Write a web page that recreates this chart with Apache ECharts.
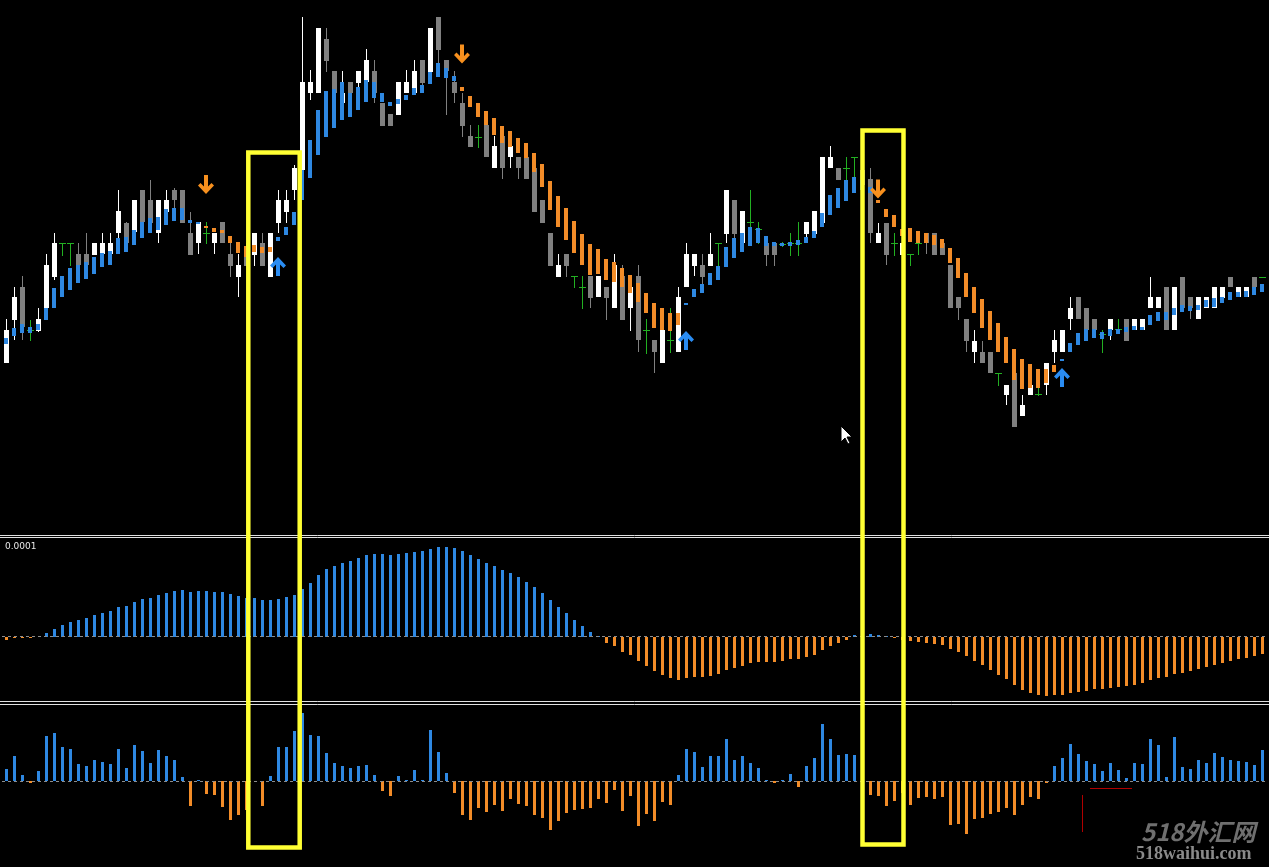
<!DOCTYPE html>
<html>
<head>
<meta charset="utf-8">
<script src="https://cdn.jsdelivr.net/npm/echarts/dist/echarts.min.js"></script>
<style>
html,body{margin:0;padding:0;background:#000;overflow:hidden;}
#c{width:1269px;height:867px;}
</style>
</head>
<body>
<div id="c"></div>
<script>
// ---------- DATA (price in points) ----------
const open = [
172,215,248,205,204,227,258,292,292,281, 281,280,281,281,302,312,303,345,335,302,
323,345,345,302,292,302,292,313,281,258, 281,280,292,258,312,323,345,365,442,442,
496,464,432,453,452,453,464,432,421,420, 442,442,475,463,518,475,453,432,399,398,
410,367,399,378,378,378,367,335,302,258, 281,259,248,259,238,248,227,259,227,259,
205,195,172,195,183,248,269,270,269,292, 301,335,292,313,306,292,292,291,292,292,
301,301,312,367,367,367,378,365,356,292, 312,292,280,281,292,302,302,292,270,238,
216,183,183,183,162,140,162,119,140,141, 150,183,183,216,238,227,216,201,205,206,
216,205,205,227,227,248,205,258,238,216, 227,227,237,258,238,238,258,258];
const high = [
216,248,259,215,227,281,302,292,292,292, 302,292,302,302,345,313,335,345,355,335,
345,347,345,323,313,313,302,313,292,281, 292,302,302,302,345,345,370,518,465,507,
507,464,464,453,464,486,475,432,421,453, 465,475,475,507,518,475,464,442,410,410,
410,399,399,389,378,378,367,335,302,281, 281,259,259,259,259,248,281,270,259,270,
216,195,205,227,248,292,281,281,302,292, 345,335,324,345,313,292,292,293,302,313,
313,324,378,389,367,378,378,370,367,312, 312,302,295,281,302,302,302,292,270,238,
216,205,194,183,162,150,162,140,150,150, 172,205,205,238,238,227,216,205,216,216,
216,216,216,258,238,248,248,258,238,238, 238,248,248,258,248,248,258,258];
const low = [
172,195,195,195,203,215,255,280,270,260, 265,280,273,270,297,285,290,297,302,292,
310,314,312,280,281,292,281,292,258,238, 269,269,269,258,302,312,335,345,435,442,
463,435,425,435,445,445,432,409,409,420, 442,442,445,455,463,420,432,398,388,388,
378,367,356,367,356,356,323,312,269,258, 258,248,227,227,238,215,227,215,204,183,
182,162,172,183,183,248,259,248,269,258, 292,281,292,295,292,269,269,289,280,280,
292,301,312,367,355,355,358,345,292,292, 270,280,280,270,281,281,280,280,227,215,
183,172,172,162,150,130,108,119,140,140, 140,172,183,205,216,205,205,183,195,202,
194,205,205,227,227,205,205,227,216,216, 227,227,237,248,238,238,248,258];
const close = [
205,238,208,205,216,270,292,292,292,270, 270,292,292,292,324,292,335,313,312,335,
335,335,312,280,313,302,302,292,269,270, 269,302,269,302,335,335,367,453,453,507,
474,442,442,442,464,475,442,409,409,453, 453,464,452,507,485,464,442,409,388,398,
378,389,367,389,367,356,323,312,269,270, 269,259,248,237,259,237,270,215,248,195,
205,183,205,195,238,281,281,258,281,292, 345,301,324,313,306,280,280,291,292,292,
313,324,378,378,355,367,378,350,302,302, 280,292,292,281,292,292,280,280,227,227,
194,194,172,162,162,150,108,130,150,141, 172,195,205,227,216,205,205,201,216,206,
194,216,216,238,238,205,248,227,227,238, 238,248,248,248,248,248,248,258];
// trend-line segment ends and direction (u = up / blue, d = down / orange)
const trendLow = [
191,199,202,202,205,215,227,238,245,252, 256,261,268,270,281,283,290,297,302,305,
310,314,315,312,311,307,303,302,292,282, 278,283,282,283,294,300,310,335,357,380,
398,407,415,418,425,433,437,433,429,431, 435,440,442,451,458,457,454,444,428,418,
410,400,392,388,382,377,363,348,325,308, 295,282,270,260,261,255,253,248,242,233,
222,207,205,204,210,230,238,242,250,255, 268,277,283,289,292,289,289,289,289,290,
292,297,308,320,327,334,342,345,342,332, 318,308,299,293,292,292,290,287,272,257,
238,222,207,195,183,172,155,146,147,147, 152,163,174,183,190,194,197,196,199,201,
203,205,205,210,214,215,220,223,224,225, 228,228,232,235,238,238,240,243];
const trendHigh = [
197,207,211,208,211,227,247,259,267,270, 273,278,282,284,297,298,305,313,317,318,
326,327,327,315,313,309,307,305,299,293, 289,290,288,288,298,308,323,365,395,425,
444,446,453,442,448,455,453,442,433,436, 440,447,450,463,472,467,459,448,439,432,
424,417,409,404,397,392,382,371,354,339, 327,314,301,291,286,276,273,267,260,252,
242,232,227,222,222,232,246,251,262,269, 288,297,302,308,307,299,293,292,293,295,
298,304,322,340,347,355,358,355,348,335, 326,320,306,307,304,302,300,296,287,277,
262,248,236,224,212,198,186,176,171,166, 166,170,176,192,202,206,206,203,206,206,
208,209,208,220,223,223,227,230,229,230, 235,237,238,243,243,244,248,251];
const trendDir = [
'u','u','u','u','u','u','u','u','u','u', 'u','u','u','u','u','u','u','u','u','u',
'u','u','u','u','u','d','d','d','d','d', 'd','d','d','d','u','u','u','u','u','u',
'u','u','u','u','u','u','u','u','u','u', 'u','u','u','u','u','u','u','d','d','d',
'd','d','d','d','d','d','d','d','d','d', 'd','d','d','d','d','d','d','d','d','d',
'd','d','d','d','d','u','u','u','u','u', 'u','u','u','u','u','u','u','u','u','u',
'u','u','u','u','u','u','u','u','u','d', 'd','d','d','d','d','d','d','d','d','d',
'd','d','d','d','d','d','d','d','d','d', 'd','d','u','u','u','u','u','u','u','u',
'u','u','u','u','u','u','u','u','u','u', 'u','u','u','u','u','u','u','u'];
// signal arrows
const arrowUpIdx = [34, 85, 132];
const arrowUpVal = [268.5, 194.5, 157.5];
const arrowDownIdx = [25, 57, 109];
const arrowDownVal = [350.5, 481, 346];
// oscillator 1 (units of 1e-6)
const hist1 = [
-3,-0.5,-1,-1,0,4,8,12,15,17, 19,22,24,26,30,31,35,38,39,42,
44,46,47,45,46,46,45,45,43,41, 39,39,37,37,38,40,42,48,54,62,
68,71,74,76,79,82,83,83,82,83, 84,85,86,88,90,90,89,86,82,78,
74,71,67,64,60,55,50,44,37,30, 24,17,11,5,0.5,-6,-9,-15,-18,-24,
-29,-34,-38,-41,-43,-41,-40,-40,-39,-37, -33,-31,-29,-26,-25,-25,-25,-24,-22,-22,
-20,-18,-13,-9,-6,-3,2,2.5,3,2, 1,-1.5,-3,-4,-5,-6,-7,-8,-12,-15,
-19,-24,-28,-33,-38,-42,-48,-53,-56,-58, -59,-58,-58,-56,-55,-54,-52,-52,-51,-50,
-49,-48,-46,-43,-41,-40,-37,-36,-34,-32, -30,-28,-26,-24,-22,-21,-19,-17];
// oscillator 2
const hist2 = [
12,25,6,-2,10,45,48,34,32,17, 15,21,19,17,32,13,36,30,18,31,
25,21,4,-25,1,-13,-14,-26,-39,-34, -29,0,-25,5,34,34,50,68,46,45,
28,18,15,13,15,16,6,-10,-15,5, 1,11,1,51,29,8,-12,-34,-39,-27,
-31,-24,-30,-18,-23,-25,-34,-37,-49,-40, -32,-29,-28,-27,-18,-22,-9,-30,-15,-45,
-33,-40,-21,-24,6,32,29,14,25,25, 42,21,25,18,13,1,-2,1,7,-6,
15,23,57,42,26,27,26,-8,-14,-15, -25,-20,-12,-24,-17,-16,-18,-16,-44,-43,
-53,-38,-37,-33,-31,-27,-34,-24,-16,-18, -2,15,23,37,27,20,17,10,18,11,
3,18,17,42,36,4,44,14,12,21, 18,28,24,21,20,19,16,31];
const scaleLabel = '0.0001';

// ---------- STYLE ----------
const WHITE = '#ffffff', GRAY = '#808080', DOJI = '#22b022';
const BLUE = '#2e88e2', ORANGE = '#f28c28';
const ABLUE = '#2a8cf2', AORANGE = '#f7901e';

const N = open.length;
const cats = open.map((_, i) => String(i));

function candleItem(params, api) {
  const i = api.value(0), o = api.value(1), c = api.value(2), l = api.value(3), h = api.value(4);
  const x = Math.round(api.coord([i, o])[0]);
  const yo = Math.round(api.coord([i, o])[1]);
  const yc = Math.round(api.coord([i, c])[1]);
  const yl = Math.round(api.coord([i, l])[1]);
  const yh = Math.round(api.coord([i, h])[1]);
  if (o === c) {
    return {type: 'group', children: [
      {type: 'rect', shape: {x: x, y: yh, width: 1, height: Math.max(1, yl - yh + 1)}, style: {fill: DOJI}},
      {type: 'rect', shape: {x: x - 3, y: yo, width: 7, height: 1}, style: {fill: DOJI}}
    ]};
  }
  const col = c > o ? WHITE : GRAY;
  const top = Math.min(yo, yc), bot = Math.max(yo, yc);
  return {type: 'group', children: [
    {type: 'rect', shape: {x: x, y: yh, width: 1, height: Math.max(1, yl - yh)}, style: {fill: col}},
    {type: 'rect', shape: {x: x - 2, y: top, width: 5, height: Math.max(1, bot - top)}, style: {fill: col}}
  ]};
}

function trendItem(params, api) {
  const i = api.value(0), a = api.value(1), b = api.value(2);
  const p1 = api.coord([i, a]), p2 = api.coord([i, b]);
  const x = Math.round(p1[0]);
  const y1 = Math.round(p2[1]), y2 = Math.round(p1[1]);
  return {type: 'rect', shape: {x: x - 2, y: y1, width: 4, height: Math.max(2, y2 - y1)},
          style: {fill: trendDir[i] === 'u' ? BLUE : ORANGE}};
}

function histItem(params, api) {
  const i = api.value(0), v = api.value(1);
  const p0 = api.coord([i, 0]), p1 = api.coord([i, v]);
  const x = Math.round(p0[0]);
  const y0 = Math.round(p0[1]), y1 = Math.round(p1[1]);
  const top = Math.min(y0, y1), h = Math.abs(y1 - y0);
  if (h < 1 && v === 0) return null;
  return {type: 'rect', shape: {x: x - 1, y: top, width: 3, height: Math.max(1, h)},
          style: {fill: v >= 0 ? BLUE : ORANGE}};
}

const downPath = 'path://M6,0 L10,0 L10,11 L13.5,7.5 L16,10 L8,18 L0,10 L2.5,7.5 L6,11 Z';
const upPath = 'path://M6,18 L10,18 L10,7 L13.5,10.5 L16,8 L8,0 L0,8 L2.5,10.5 L6,7 Z';

const zeroLine = {
  silent: true, symbol: 'none', label: {show: false},
  lineStyle: {color: '#8c8c8c', type: [3, 3], width: 1},
  data: [{yAxis: 0}]
};

const chart = echarts.init(document.getElementById('c'), null, {renderer: 'canvas'});
chart.setOption({
  backgroundColor: '#000000',
  animation: false,
  grid: [
    {left: 2, width: 1264, top: 0, height: 535},
    {left: 2, width: 1264, top: 538, height: 164},
    {left: 2, width: 1264, top: 705, height: 162}
  ],
  xAxis: [0, 1, 2].map(g => ({
    type: 'category', gridIndex: g, data: cats, boundaryGap: true,
    axisLine: {show: false}, axisTick: {show: false}, axisLabel: {show: false}, splitLine: {show: false}
  })),
  yAxis: [
    {type: 'value', gridIndex: 0, min: 0, max: 535, show: false, splitLine: {show: false}},
    {type: 'value', gridIndex: 1, min: -65.5, max: 98.5, show: false, splitLine: {show: false}},
    {type: 'value', gridIndex: 2, min: -86, max: 76, show: false, splitLine: {show: false}}
  ],
  series: [
    {
      type: 'custom', name: 'price', xAxisIndex: 0, yAxisIndex: 0, z: 2,
      renderItem: candleItem,
      encode: {x: 0, y: [1, 2, 3, 4]},
      data: open.map((o, i) => [i, o, close[i], low[i], high[i]])
    },
    {
      type: 'custom', name: 'trend', xAxisIndex: 0, yAxisIndex: 0, z: 3,
      renderItem: trendItem,
      encode: {x: 0, y: [1, 2]},
      data: trendLow.map((a, i) => [i, a, trendHigh[i]])
    },
    {
      type: 'scatter', name: 'buy', xAxisIndex: 0, yAxisIndex: 0, z: 4,
      symbol: upPath, symbolSize: [16, 19], itemStyle: {color: ABLUE, opacity: 1},
      data: arrowUpIdx.map((x, k) => [x, arrowUpVal[k]])
    },
    {
      type: 'scatter', name: 'sell', xAxisIndex: 0, yAxisIndex: 0, z: 4,
      symbol: downPath, symbolSize: [16, 19], itemStyle: {color: AORANGE, opacity: 1},
      data: arrowDownIdx.map((x, k) => [x, arrowDownVal[k]])
    },
    {
      type: 'custom', name: 'osc1', xAxisIndex: 1, yAxisIndex: 1, z: 2,
      renderItem: histItem, encode: {x: 0, y: 1},
      data: hist1.map((v, i) => [i, v]),
      markLine: zeroLine
    },
    {
      type: 'custom', name: 'osc2', xAxisIndex: 2, yAxisIndex: 2, z: 2,
      renderItem: histItem, encode: {x: 0, y: 1},
      data: hist2.map((v, i) => [i, v]),
      markLine: zeroLine
    }
  ],
  graphic: [
    {type: 'line', z: 50, shape: {x1: 0, y1: 535.5, x2: 1269, y2: 535.5}, style: {stroke: '#e0e0e0', lineWidth: 1}},
    {type: 'line', z: 50, shape: {x1: 0, y1: 537.5, x2: 1269, y2: 537.5}, style: {stroke: '#e0e0e0', lineWidth: 1}},
    {type: 'line', z: 50, shape: {x1: 0, y1: 701.5, x2: 1269, y2: 701.5}, style: {stroke: '#e0e0e0', lineWidth: 1}},
    {type: 'line', z: 50, shape: {x1: 0, y1: 704.5, x2: 1269, y2: 704.5}, style: {stroke: '#e0e0e0', lineWidth: 1}},
    {type: 'text', z: 50, left: 5, top: 542, style: {text: scaleLabel, fill: '#e6e6e6', font: '9px "DejaVu Sans", sans-serif'}},
    {type: 'rect', z: 100, shape: {x: 248.3, y: 152.5, width: 51.4, height: 695}, style: {fill: null, stroke: '#ffff33', lineWidth: 4.5}},
    {type: 'rect', z: 100, shape: {x: 862.5, y: 130.5, width: 41, height: 714}, style: {fill: null, stroke: '#ffff33', lineWidth: 4.5}},
    {type: 'line', z: 50, shape: {x1: 1090, y1: 788.5, x2: 1132, y2: 788.5}, style: {stroke: '#b00000', lineWidth: 1}},
    {type: 'line', z: 50, shape: {x1: 1082.5, y1: 795, x2: 1082.5, y2: 832}, style: {stroke: '#b00000', lineWidth: 1}},
    {type: 'text', z: 60, left: 1141, top: 820, style: {text: '518外汇网', fill: '#6f6f6f', font: 'italic bold 24px "Noto Sans CJK SC", sans-serif'}},
    {type: 'text', z: 60, left: 1136, top: 845, style: {text: '518waihui.com', fill: '#8a8a8a', font: 'bold 18px "Liberation Serif", "DejaVu Serif", serif'}},
    {type: 'polygon', z: 70, shape: {points: [[841,426],[841,442],[845,438],[848,444],[850,443],[847,437],[852,437]]},
     style: {fill: '#ffffff', stroke: '#000000', lineWidth: 1}}
  ]
});
</script>
</body>
</html>
